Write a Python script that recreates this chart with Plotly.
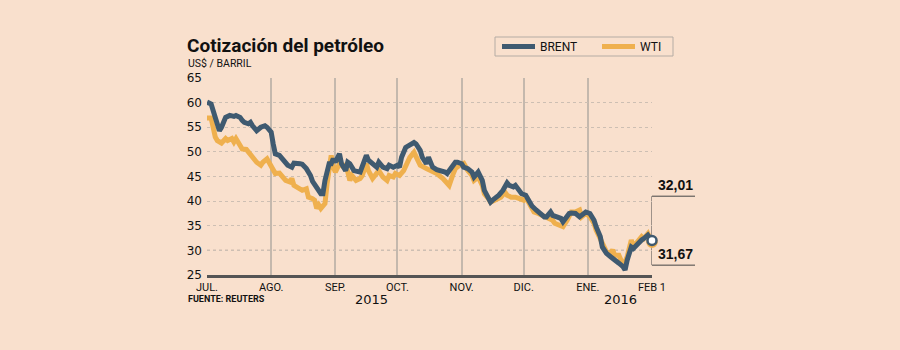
import plotly.graph_objects as go

brent_dates = ["2015-07-01","2015-07-03","2015-07-05","2015-07-07","2015-07-08","2015-07-10","2015-07-12","2015-07-14","2015-07-15","2015-07-17","2015-07-18","2015-07-19","2015-07-21","2015-07-22","2015-07-23","2015-07-25","2015-07-27","2015-07-29","2015-07-30",
"2015-08-01","2015-08-02","2015-08-03","2015-08-05","2015-08-07","2015-08-08","2015-08-09","2015-08-11","2015-08-12","2015-08-15","2015-08-16","2015-08-18","2015-08-20","2015-08-21","2015-08-23","2015-08-25","2015-08-26","2015-08-27","2015-08-29","2015-08-30","2015-08-31",
"2015-09-01","2015-09-03","2015-09-04","2015-09-06","2015-09-07","2015-09-08","2015-09-10","2015-09-13","2015-09-14","2015-09-16","2015-09-17","2015-09-19","2015-09-21","2015-09-22","2015-09-24","2015-09-26","2015-09-27","2015-09-29",
"2015-10-01","2015-10-02","2015-10-03","2015-10-05","2015-10-07","2015-10-09","2015-10-10","2015-10-12","2015-10-13","2015-10-15","2015-10-16","2015-10-18","2015-10-20","2015-10-22","2015-10-24","2015-10-25","2015-10-27","2015-10-29","2015-10-30",
"2015-11-01","2015-11-02","2015-11-04","2015-11-06","2015-11-07","2015-11-09","2015-11-11","2015-11-12","2015-11-14","2015-11-15","2015-11-16","2015-11-19","2015-11-21","2015-11-23","2015-11-24","2015-11-26","2015-11-27","2015-11-29","2015-11-30",
"2015-12-02","2015-12-03","2015-12-05","2015-12-07","2015-12-09","2015-12-11","2015-12-12","2015-12-14","2015-12-15","2015-12-17","2015-12-19","2015-12-20","2015-12-21","2015-12-23","2015-12-24","2015-12-26","2015-12-28","2015-12-30","2015-12-31",
"2016-01-02","2016-01-04","2016-01-05","2016-01-07","2016-01-08","2016-01-10","2016-01-12","2016-01-13","2016-01-15","2016-01-16","2016-01-18","2016-01-19","2016-01-20","2016-01-22","2016-01-23","2016-01-25","2016-01-27","2016-01-28","2016-01-30","2016-02-01"]
brent_values = [60.1,59.7,57.0,54.3,55.0,57.0,57.4,57.2,57.4,57.0,56.4,56.0,55.7,56.0,55.3,54.3,55.0,55.3,55.0,
54.0,51.6,49.6,49.3,48.3,47.9,47.3,46.9,47.7,47.6,47.5,46.6,45.2,44.0,42.5,41.5,41.5,44.2,47.6,47.6,48.6,
47.9,49.6,47.6,46.2,47.9,47.6,46.2,45.9,46.9,49.3,48.3,47.6,46.9,47.9,46.9,46.6,47.3,46.9,
47.3,46.9,48.9,50.9,51.3,51.9,51.6,50.3,48.9,47.6,48.9,46.9,46.4,46.2,45.9,45.6,46.9,47.9,47.9,
47.6,46.9,46.6,45.9,44.9,45.9,44.2,42.2,40.5,39.8,40.2,41.2,42.2,43.7,43.2,42.9,43.2,42.2,41.5,
41.2,40.5,39.0,38.2,37.5,36.8,36.8,37.8,37.1,36.8,36.5,35.8,36.5,37.5,37.6,37.5,36.8,37.5,37.8,
37.5,36.1,34.8,32.8,30.7,29.4,28.7,28.4,28.0,27.4,26.7,26.0,28.0,30.7,30.4,31.4,32.1,32.4,33.1,32.01]

wti_dates = ["2015-07-01","2015-07-03","2015-07-05","2015-07-06","2015-07-08","2015-07-10","2015-07-11","2015-07-13","2015-07-14","2015-07-15","2015-07-17","2015-07-18","2015-07-20","2015-07-21","2015-07-23","2015-07-25","2015-07-27","2015-07-28","2015-07-30","2015-07-31",
"2015-08-02","2015-08-03","2015-08-05","2015-08-07","2015-08-08","2015-08-10","2015-08-11","2015-08-12","2015-08-15","2015-08-16","2015-08-18","2015-08-19","2015-08-21","2015-08-22","2015-08-23","2015-08-24","2015-08-25","2015-08-27","2015-08-28","2015-08-29","2015-08-30","2015-08-31",
"2015-09-01","2015-09-03","2015-09-05","2015-09-06","2015-09-08","2015-09-09","2015-09-11","2015-09-13","2015-09-14","2015-09-16","2015-09-17","2015-09-19","2015-09-21","2015-09-22","2015-09-24","2015-09-26","2015-09-27","2015-09-29","2015-09-30",
"2015-10-02","2015-10-04","2015-10-06","2015-10-07","2015-10-09","2015-10-10","2015-10-12","2015-10-15","2015-10-18","2015-10-20","2015-10-23","2015-10-25","2015-10-26","2015-10-28","2015-10-29",
"2015-11-01","2015-11-02","2015-11-04","2015-11-06","2015-11-07","2015-11-09","2015-11-11","2015-11-12","2015-11-14","2015-11-15","2015-11-17","2015-11-19","2015-11-20","2015-11-22","2015-11-23","2015-11-25","2015-11-27","2015-11-29",
"2015-12-01","2015-12-02","2015-12-04","2015-12-06","2015-12-08","2015-12-11","2015-12-13","2015-12-15","2015-12-16","2015-12-19","2015-12-20","2015-12-22","2015-12-24","2015-12-26","2015-12-28","2015-12-29","2015-12-31",
"2016-01-02","2016-01-04","2016-01-05","2016-01-07","2016-01-09","2016-01-10","2016-01-12","2016-01-13","2016-01-14","2016-01-16","2016-01-17","2016-01-18","2016-01-20","2016-01-22","2016-01-23","2016-01-25","2016-01-27","2016-01-28","2016-01-30","2016-01-31","2016-02-01"]
wti_values = [56.9,56.9,53.0,52.3,51.8,52.7,52.3,52.7,52.0,52.7,51.3,50.6,50.5,50.0,48.9,47.9,47.3,47.9,48.6,47.9,
46.2,45.6,45.7,44.9,44.2,43.9,44.6,43.2,42.5,42.2,42.5,40.8,40.5,40.2,38.5,39.2,38.5,39.5,43.5,46.9,49.3,46.9,
45.9,47.6,46.9,47.6,44.2,45.2,44.2,44.6,45.2,47.6,46.2,44.6,45.6,46.2,44.9,44.2,45.2,44.9,45.6,
45.2,46.2,48.3,48.9,49.9,48.9,47.3,46.6,45.9,45.6,44.6,43.5,43.2,45.6,46.6,
47.6,47.7,46.2,45.2,44.2,44.9,43.2,41.5,40.5,39.8,40.2,40.5,40.8,41.8,41.2,40.8,40.8,40.5,
40.2,40.8,39.5,37.8,37.5,36.8,36.5,36.1,35.5,34.8,34.8,36.1,37.8,37.8,38.2,36.8,37.5,
36.8,35.5,34.1,32.1,30.7,29.7,29.4,30.1,29.0,29.0,28.0,26.7,28.7,32.1,30.7,31.7,32.8,32.4,33.4,32.4,31.67]

month_ticks = ["2015-07-01","2015-08-01","2015-09-01","2015-10-01","2015-11-01","2015-12-01","2016-01-01","2016-02-01"]
month_labels = ["JUL.","AGO.","SEP.","OCT.","NOV.","DIC.","ENE.","FEB 1"]
y_ticks = [25,30,35,40,45,50,55,60,65]
brent_last_label = "32,01"
wti_last_label = "31,67"

BG = "#f9e0cd"
BRENT = "#3f5a70"
WTI = "#efb04e"
NARROW = "Roboto, Liberation Sans, sans-serif"

fig = go.Figure()
fig.add_trace(go.Scatter(x=wti_dates, y=wti_values, mode="lines", name="WTI",
                         line=dict(color=WTI, width=5), showlegend=False))
fig.add_trace(go.Scatter(x=brent_dates, y=brent_values, mode="lines", name="BRENT",
                         line=dict(color=BRENT, width=5), showlegend=False))
fig.add_trace(go.Scatter(x=[wti_dates[-1]], y=[wti_values[-1]], mode="markers", showlegend=False,
                         cliponaxis=False,
                         marker=dict(size=9, color="white", line=dict(color=WTI, width=2.5))))
fig.add_trace(go.Scatter(x=[brent_dates[-1]], y=[brent_values[-1]], mode="markers", showlegend=False,
                         cliponaxis=False,
                         marker=dict(size=9, color="white", line=dict(color=BRENT, width=2.5))))

# pixel helpers (paper units)
L, R, T, B = 207, 248, 78, 75
pw, ph = 900 - L - R, 350 - T - B
def px(x):
    return (x - L) / pw
def py(y):
    return (350 - B - y) / ph

# dark dotted line at 30
fig.add_shape(type="line", xref="paper", yref="y", x0=0, x1=1, y0=30, y1=30,
              line=dict(color="#555555", width=1, dash="dot"), layer="below")

# bracket for final values
fig.add_shape(type="line", xref="x", yref="y", x0=month_ticks[-1], x1=month_ticks[-1], y0=41.0, y1=27.0,
              line=dict(color="#444444", width=1), layer="below")
fig.add_shape(type="line", xref="paper", yref="y", x0=1.0, x1=px(695), y0=41.0, y1=41.0,
              line=dict(color="#444444", width=1))
fig.add_shape(type="line", xref="paper", yref="y", x0=1.0, x1=px(695), y0=27.0, y1=27.0,
              line=dict(color="#444444", width=1))

fig.add_annotation(xref="paper", yref="y", x=px(695), y=41.0, text="<b>" + brent_last_label + "</b>",
                   showarrow=False, xanchor="right", yanchor="bottom", yshift=1,
                   font=dict(family="Liberation Sans, Arial, sans-serif", size=14, color="#111111"))
fig.add_annotation(xref="paper", yref="y", x=px(695), y=27.0, text="<b>" + wti_last_label + "</b>",
                   showarrow=False, xanchor="right", yanchor="bottom", yshift=1,
                   font=dict(family="Liberation Sans, Arial, sans-serif", size=14, color="#111111"))

# legend box (key)
fig.add_shape(type="rect", xref="paper", yref="paper", x0=px(495), x1=px(673), y0=py(37), y1=py(56),
              line=dict(color="#b5aca4", width=1), fillcolor=BG)
for name, color, x0 in [("BRENT", BRENT, 502), ("WTI", WTI, 602)]:
    fig.add_shape(type="line", xref="paper", yref="paper", x0=px(x0), x1=px(x0 + 33),
                  y0=py(46.5), y1=py(46.5), line=dict(color=color, width=5))
    fig.add_annotation(xref="paper", yref="paper", x=px(x0 + 36), y=py(47), text=name,
                       showarrow=False, xanchor="left", yanchor="middle",
                       font=dict(family=NARROW, size=12, color="#111111"))

# titles and notes
fig.add_annotation(xref="paper", yref="paper", x=px(185), y=py(46), text="<b>Cotización del petróleo</b>",
                   showarrow=False, xanchor="left", yanchor="middle",
                   font=dict(family=NARROW, size=19, color="#111111"))
fig.add_annotation(xref="paper", yref="paper", x=px(186), y=py(63), text="US$ / BARRIL",
                   showarrow=False, xanchor="left", yanchor="middle",
                   font=dict(family=NARROW, size=10.5, color="#111111"))
fig.add_annotation(xref="paper", yref="paper", x=px(186), y=py(299), text="<b>FUENTE: REUTERS</b>",
                   showarrow=False, xanchor="left", yanchor="middle",
                   font=dict(family=NARROW, size=9, color="#111111"))
fig.add_annotation(xref="paper", yref="paper", x=px(371), y=py(299), text="2015",
                   showarrow=False, xanchor="center", yanchor="middle",
                   font=dict(family="DejaVu Sans, sans-serif", size=13, color="#111111"))
fig.add_annotation(xref="paper", yref="paper", x=px(620), y=py(299), text="2016",
                   showarrow=False, xanchor="center", yanchor="middle",
                   font=dict(family="DejaVu Sans, sans-serif", size=13, color="#111111"))

fig.update_layout(
    width=900, height=350,
    margin=dict(l=L, r=R, t=T, b=B, pad=0),
    paper_bgcolor=BG, plot_bgcolor=BG,
    showlegend=False,
    xaxis=dict(type="date", range=[month_ticks[0], month_ticks[-1]],
               tickvals=month_ticks, ticktext=month_labels, ticks="",
               showgrid=True, gridcolor="#c4b8ad", gridwidth=1.5,
               showline=True, linecolor="#555555", linewidth=2.5,
               zeroline=False, fixedrange=True,
               tickfont=dict(family=NARROW, size=11, color="#111111")),
    yaxis=dict(range=[25, 65], tickvals=y_ticks, ticks="", ticklabelstandoff=4,
               showgrid=True, gridcolor="#cdbfb3", gridwidth=1, griddash="dot",
               showline=False, zeroline=False, fixedrange=True,
               tickfont=dict(family="DejaVu Sans, sans-serif", size=12, color="#111111")),
)

fig.write_html("out.html")
